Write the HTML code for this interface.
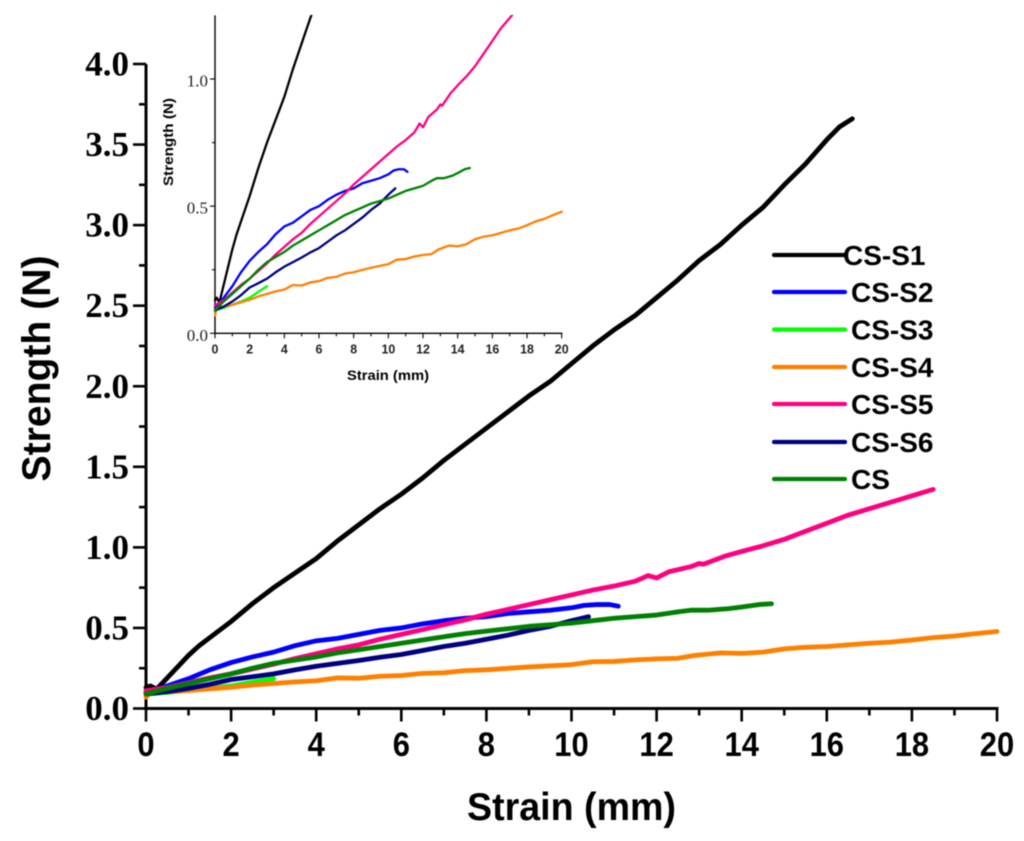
<!DOCTYPE html>
<html lang="en">
<head>
<meta charset="utf-8">
<title>Strength vs Strain chart</title>
<style>
html,body{margin:0;padding:0;background:#fff;width:1024px;height:841px;overflow:hidden}
svg{display:block;filter:blur(.45px)}
.title{font-family:"Liberation Sans",sans-serif;font-weight:700;fill:#000}
.legend-text{font-family:"Liberation Sans",sans-serif;font-weight:700;font-size:28px;fill:#000}
</style>
</head>
<body>
<svg id="chart" xmlns="http://www.w3.org/2000/svg" width="1024" height="841" viewBox="0 0 1024 841">
  <defs>
    <clipPath id="inset-clip"><rect x="205" y="15" width="370" height="330"/></clipPath>
  </defs>
  <g id="main-plot"></g>
  <g id="inset-plot"></g>
  <text class="title" x="571.5" y="820" font-size="39" text-anchor="middle" textLength="209" lengthAdjust="spacingAndGlyphs">Strain (mm)</text>
  <text class="title" transform="translate(50,368.5) rotate(-90)" font-size="40" text-anchor="middle" textLength="226" lengthAdjust="spacingAndGlyphs">Strength (N)</text>
  <text class="title" x="388" y="380" font-size="14" text-anchor="middle" textLength="82" lengthAdjust="spacingAndGlyphs">Strain (mm)</text>
  <text class="title" transform="translate(173,142) rotate(-90)" font-size="14" text-anchor="middle" textLength="88" lengthAdjust="spacingAndGlyphs">Strength (N)</text>
  <g>
    <line x1="774" y1="255" x2="845" y2="255" stroke="#000" stroke-width="4.2" stroke-linecap="round"/>
    <text class="legend-text" x="843" y="265">CS-S1</text>
    <line x1="774" y1="292" x2="845" y2="292" stroke="#0000ff" stroke-width="4.2" stroke-linecap="round"/>
    <text class="legend-text" x="851" y="302">CS-S2</text>
    <line x1="774" y1="329.5" x2="845" y2="329.5" stroke="#00ff00" stroke-width="4.2" stroke-linecap="round"/>
    <text class="legend-text" x="851" y="339.5">CS-S3</text>
    <line x1="774" y1="367" x2="845" y2="367" stroke="#ff8000" stroke-width="4.2" stroke-linecap="round"/>
    <text class="legend-text" x="851" y="377">CS-S4</text>
    <line x1="774" y1="404" x2="845" y2="404" stroke="#ff0080" stroke-width="4.2" stroke-linecap="round"/>
    <text class="legend-text" x="851" y="414">CS-S5</text>
    <line x1="774" y1="442" x2="845" y2="442" stroke="#000080" stroke-width="4.2" stroke-linecap="round"/>
    <text class="legend-text" x="851" y="452">CS-S6</text>
    <line x1="774" y1="479" x2="845" y2="479" stroke="#008000" stroke-width="4.2" stroke-linecap="round"/>
    <text class="legend-text" x="851" y="489">CS</text>
  </g>
</svg>
<script>
const xTickLabels = ["0","2","4","6","8","10","12","14","16","18","20"];
const xMinorTicks = [1,3,5,7,9,11,13,15,17,19];
const yTickLabels = ["0.0","0.5","1.0","1.5","2.0","2.5","3.0","3.5","4.0"];
const yMinorTicks = [0.25,0.75,1.25,1.75,2.25,2.75,3.25,3.75];
const insetYTickLabels = ["0.0","0.5","1.0"];
const insetYMinorTicks = [0.25,0.75];

const csS1 = [[0,0.13],[0.1,0.14],[0.25,0.12],[0.5,0.19],[0.75,0.26],[1,0.33],[1.25,0.39],[1.5,0.44],[2,0.54],[2.5,0.65],[3,0.75],[3.5,0.84],[4,0.93],[4.5,1.04],[5,1.14],[5.5,1.24],[6,1.33],[6.5,1.43],[7,1.54],[7.5,1.64],[8,1.74],[8.5,1.84],[9,1.94],[9.5,2.03],[10,2.14],[10.5,2.25],[11,2.35],[11.5,2.44],[12,2.55],[12.5,2.66],[13,2.78],[13.5,2.88],[14,3.0],[14.5,3.11],[15,3.25],[15.5,3.38],[16,3.53],[16.3,3.61],[16.6,3.66]];
const csS2 = [[0,0.1],[0.5,0.14],[1,0.185],[1.5,0.24],[2,0.285],[2.5,0.32],[3,0.35],[3.5,0.39],[4,0.42],[4.5,0.435],[5,0.46],[5.5,0.485],[6,0.5],[6.5,0.525],[7,0.545],[7.5,0.56],[8,0.57],[8.5,0.59],[9,0.6],[9.5,0.61],[10,0.625],[10.3,0.64],[10.6,0.645],[10.9,0.645],[11.1,0.635]];
const csS3 = [[0,0.09],[0.5,0.1],[1,0.112],[1.5,0.125],[2,0.14],[2.5,0.163],[3,0.185]];
const csS4 = [[0,0.07],[0.1,0.1],[0.5,0.105],[1,0.112],[1.5,0.122],[2,0.132],[2.5,0.145],[3,0.155],[3.5,0.165],[4,0.172],[4.5,0.19],[5,0.188],[5.5,0.2],[6,0.205],[6.5,0.218],[7,0.222],[7.5,0.235],[8,0.24],[9,0.258],[10,0.272],[10.5,0.29],[11,0.292],[11.5,0.302],[12,0.308],[12.5,0.312],[12.9,0.33],[13.5,0.345],[14,0.342],[14.5,0.35],[15,0.37],[15.5,0.38],[16,0.385],[16.5,0.395],[17,0.405],[17.5,0.412],[18,0.425],[18.5,0.44],[19,0.45],[19.5,0.465],[20,0.478]];
const csS5 = [[0,0.11],[0.5,0.13],[1,0.16],[1.5,0.19],[2,0.215],[2.5,0.245],[3,0.275],[3.5,0.31],[4,0.34],[4.5,0.37],[5,0.395],[5.5,0.43],[6,0.46],[6.5,0.49],[7,0.52],[7.5,0.55],[8,0.585],[8.5,0.615],[9,0.645],[9.5,0.675],[10,0.705],[10.5,0.735],[11,0.76],[11.5,0.79],[11.8,0.825],[12,0.81],[12.3,0.85],[12.8,0.88],[13,0.9],[13.1,0.895],[13.6,0.945],[14,0.975],[14.5,1.01],[15,1.05],[15.5,1.1],[16,1.15],[16.5,1.2],[17,1.24],[17.5,1.28],[18,1.32],[18.5,1.36]];
const csS6 = [[0,0.09],[0.5,0.105],[1,0.125],[1.5,0.15],[2,0.18],[2.5,0.197],[3,0.215],[3.5,0.24],[4,0.262],[4.5,0.28],[5,0.298],[5.5,0.318],[6,0.335],[6.5,0.36],[7,0.385],[7.5,0.405],[8,0.43],[8.5,0.455],[9,0.485],[9.5,0.51],[10,0.545],[10.4,0.57]];
const csBase = [[0,0.09],[0.5,0.125],[1,0.155],[1.5,0.185],[2,0.215],[2.5,0.25],[3,0.28],[3.5,0.3],[4,0.32],[4.5,0.345],[5,0.365],[5.5,0.385],[6,0.405],[6.5,0.425],[7,0.445],[7.5,0.465],[8,0.48],[8.5,0.495],[9,0.51],[9.5,0.52],[10,0.53],[10.5,0.545],[11,0.56],[11.5,0.57],[12,0.58],[12.5,0.6],[12.8,0.61],[13.2,0.61],[13.7,0.62],[14,0.63],[14.4,0.645],[14.7,0.65]];

const seriesNames = ["cs-s1","cs-s2","cs-s3","cs-s4","cs-s5","cs-s6","cs"];
const seriesColors = ["#000000","#0000ff","#00ff00","#ff8000","#ff0080","#000080","#008000"];
const seriesData = [csS1,csS2,csS3,csS4,csS5,csS6,csBase];

const SVGNS = "http://www.w3.org/2000/svg";
function make(parent, tag, attrs, text) {
  const el = document.createElementNS(SVGNS, tag);
  for (const k in attrs) el.setAttribute(k, attrs[k]);
  if (text !== undefined) el.textContent = text;
  parent.appendChild(el);
  return el;
}
function linearScale(d0, d1, r0, r1) {
  return function (v) { return r0 + (v - d0) / (d1 - d0) * (r1 - r0); };
}

function drawPlot(root, xScale, yScale, o) {
  const xAxis = make(root, "g", {});
  
  
  const yAxis = make(root, "g", {});
  
  

  const xLine = make(xAxis, "line", {x1: xScale(0) - o.axisW / 2, x2: xScale(20) + o.axisW / 2, y1: yScale(0), y2: yScale(0), stroke: "#000", "stroke-width": o.axisW});
  
  
  const yLine = make(yAxis, "line", {x1: xScale(0), x2: xScale(0), y1: yScale(0) + o.axisW / 2, y2: yScale(o.yMax), stroke: "#000", "stroke-width": o.axisW});
  
  

  xTickLabels.forEach(function (lab) {
    const v = parseFloat(lab);
    const t = make(xAxis, "line", {x1: xScale(v), x2: xScale(v), y1: yScale(0), y2: yScale(0) + o.major, stroke: "#000", "stroke-width": o.tickW});
    
    
    const attrs = {x: xScale(v), y: yScale(0) + o.xLabelDy, "text-anchor": "middle", "font-family": '"Liberation Sans", sans-serif', "font-weight": "700", "font-size": o.xFont, fill: o.labelFill};
    if (o.digitW) {
      attrs.textLength = o.digitW * lab.length;
      attrs.lengthAdjust = "spacingAndGlyphs";
    }
    const l = make(xAxis, "text", attrs, lab);
    
    
  });
  xMinorTicks.forEach(function (v) {
    const t = make(xAxis, "line", {x1: xScale(v), x2: xScale(v), y1: yScale(0), y2: yScale(0) + o.minor, stroke: "#000", "stroke-width": o.tickW});
    
    
  });
  o.yLabels.forEach(function (lab) {
    const v = parseFloat(lab);
    const t = make(yAxis, "line", {x1: xScale(0) - o.major, x2: xScale(0), y1: yScale(v), y2: yScale(v), stroke: "#000", "stroke-width": o.tickW});
    
    
    const l = make(yAxis, "text", {x: xScale(0) + o.yLabelDx, y: yScale(v) + o.yLabelDy, "text-anchor": "end", "font-family": '"Liberation Serif", serif', "font-weight": o.yWeight, "font-size": o.yFont, fill: o.labelFill}, lab);
    
    
  });
  o.yMinor.forEach(function (v) {
    const t = make(yAxis, "line", {x1: xScale(0) - o.minor, x2: xScale(0), y1: yScale(v), y2: yScale(v), stroke: "#000", "stroke-width": o.tickW});
    
    
  });

  const lines = make(root, "g", o.clip ? {"clip-path": o.clip} : {});
  
  
  seriesData.forEach(function (pts, i) {
    const d = pts.map(function (p, j) {
      return (j ? "L" : "M") + xScale(p[0]).toFixed(2) + " " + yScale(p[1]).toFixed(2);
    }).join(" ");
    const path = make(lines, "path", {d: d, fill: "none", stroke: seriesColors[i], "stroke-width": o.lineW, "stroke-linecap": "round", "stroke-linejoin": "round"});
    
    
  });
}

drawPlot(document.getElementById("main-plot"),
  linearScale(0, 20, 146, 997), linearScale(0, 4, 708.5, 64),
  {prefix: "", yMax: 4, yLabels: yTickLabels, yMinor: yMinorTicks, axisW: 3, tickW: 2.6, major: 13, minor: 7,
   lineW: 4.8, xFont: 34, digitW: 17.2, xLabelDy: 47.5, yFont: 35, yLabelDx: -17, yLabelDy: 11.5, yWeight: "700", labelFill: "#000"});

drawPlot(document.getElementById("inset-plot"),
  linearScale(0, 20, 215, 561.7), linearScale(0, 1, 333.3, 79),
  {prefix: "inset-", yMax: 1.25, yLabels: insetYTickLabels, yMinor: insetYMinorTicks, axisW: 1.4, tickW: 1.1, major: 5, minor: 3,
   lineW: 2.3, xFont: 13, digitW: 6.9, xLabelDy: 20, yFont: 17, yLabelDx: -7, yLabelDy: 7.5, yWeight: "400", labelFill: "#222", clip: "url(#inset-clip)"});
</script>
</body>
</html>
